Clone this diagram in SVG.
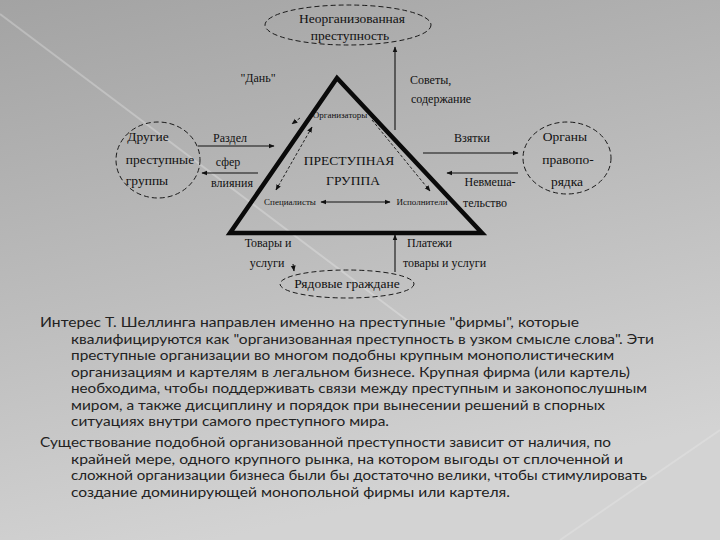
<svg xmlns="http://www.w3.org/2000/svg" width="720" height="540" viewBox="0 0 720 540">
<defs>
<linearGradient id="bg" x1="0" y1="0" x2="0.3" y2="1">
<stop offset="0" stop-color="#a3a3a3"/>
<stop offset="0.55" stop-color="#bdbdbd"/>
<stop offset="1" stop-color="#d3d3d3"/>
</linearGradient>
<marker id="ah" viewBox="0 0 10 10" refX="9" refY="5" markerWidth="6" markerHeight="6" orient="auto-start-reverse" markerUnits="userSpaceOnUse">
<path d="M0,1 L10,5 L0,9 Z" fill="#111"/>
</marker>
<style>
.lbl{font-family:"Liberation Serif","Times New Roman",serif;fill:#111;}
.s12{font-size:12px;}
.s13{font-size:13.5px;}
.s9{font-size:9px;}
.dash{fill:none;stroke:#1a1a1a;stroke-width:1;stroke-dasharray:5,3;}
.conn{fill:none;stroke:#111;stroke-width:1.1;marker-end:url(#ah);}
.inner{fill:none;stroke:#222;stroke-width:1;stroke-dasharray:3,2;}
.para{font-family:Lato,"Noto Sans",sans-serif;font-size:13.5px;fill:#222;}
</style>
</defs>
<rect x="0" y="0" width="720" height="540" fill="url(#bg)"/>
<line x1="0" y1="14" x2="420" y2="330" stroke="#ffffff" stroke-opacity="0.25" stroke-width="2"/>
<line x1="720" y1="430" x2="560" y2="540" stroke="#ffffff" stroke-opacity="0.18" stroke-width="2"/>

<g id="connectors">
<line class="conn" x1="395" y1="130" x2="395" y2="47"/>
<line class="conn" x1="198" y1="146" x2="274" y2="146"/>
<line class="conn" x1="258" y1="173" x2="202" y2="173"/>
<line class="conn" x1="423" y1="153" x2="518" y2="153"/>
<line class="conn" x1="518" y1="173" x2="447" y2="173"/>
<line class="conn" x1="395" y1="272" x2="395" y2="235"/>
<line class="conn" x1="293" y1="264" x2="294" y2="271"/>
<path class="inner" d="M312,127 L276,190" marker-start="url(#ah)" marker-end="url(#ah)"/>
<path class="inner" d="M300,118 L292,124" marker-end="url(#ah)"/>
<path class="inner" d="M372,120 L430,191" marker-end="url(#ah)"/>
<line x1="321" y1="202" x2="390" y2="202" stroke="#111" stroke-width="1" marker-start="url(#ah)" marker-end="url(#ah)"/>
<text class="lbl s12" x="258" y="82" text-anchor="middle">"Дань"</text>
<text class="lbl s12" x="410" y="84">Советы,</text>
<text class="lbl s12" x="411" y="103">содержание</text>
<text class="lbl s12" x="230" y="142" text-anchor="middle">Раздел</text>
<text class="lbl s12" x="228" y="166" text-anchor="middle">сфер</text>
<text class="lbl s12" x="232" y="187" text-anchor="middle">влияния</text>
<text class="lbl s12" x="472" y="142" text-anchor="middle">Взятки</text>
<text class="lbl s12" x="490" y="186" text-anchor="middle">Невмеша-</text>
<text class="lbl s12" x="485" y="207" text-anchor="middle">тельство</text>
<text class="lbl s12" x="268" y="247" text-anchor="middle">Товары и</text>
<text class="lbl s12" x="267" y="267" text-anchor="middle">услуги</text>
<text class="lbl s12" x="407" y="247">Платежи</text>
<text class="lbl s12" x="403" y="267">товары и услуги</text>
</g>

<g id="node-unorganized">
<ellipse class="dash" cx="348" cy="25" rx="83" ry="20"/>
<text class="lbl s13" x="352" y="23" text-anchor="middle">Неорганизованная</text>
<text class="lbl s13" x="350" y="40" text-anchor="middle">преступность</text>
</g>

<g id="node-other-groups">
<ellipse class="dash" cx="158" cy="160" rx="42" ry="38"/>
<text class="lbl s13" x="148" y="141" text-anchor="middle">Другие</text>
<text class="lbl s13" x="160" y="164" text-anchor="middle">преступные</text>
<text class="lbl s13" x="147" y="185" text-anchor="middle">группы</text>
</g>

<g id="node-law-enforcement">
<ellipse class="dash" cx="567" cy="158" rx="44" ry="36"/>
<text class="lbl s13" x="565" y="141" text-anchor="middle">Органы</text>
<text class="lbl s13" x="568" y="164" text-anchor="middle">правопо-</text>
<text class="lbl s13" x="567" y="186" text-anchor="middle">рядка</text>
</g>

<g id="node-citizens">
<ellipse class="dash" cx="347" cy="284" rx="67" ry="14"/>
<text class="lbl s13" x="347" y="288" text-anchor="middle">Рядовые граждане</text>
</g>

<g id="node-criminal-group">
<polygon points="337,78 230,233 482,233" fill="none" stroke="#0a0a0a" stroke-width="4.5" stroke-linejoin="miter"/>
<text class="lbl s13" x="349" y="165" text-anchor="middle">ПРЕСТУПНАЯ</text>
<text class="lbl s13" x="353" y="185" text-anchor="middle">ГРУППА</text>
<text class="lbl s9" x="340" y="118" text-anchor="middle">Организаторы</text>
<text class="lbl s9" x="290" y="205" text-anchor="middle">Специалисты</text>
<text class="lbl s9" x="422" y="205" text-anchor="middle">Исполнители</text>
</g>

<g id="text-body">
<text class="para" x="40" y="327" textLength="539" lengthAdjust="spacingAndGlyphs">Интерес Т. Шеллинга направлен именно на преступные "фирмы", которые</text>
<text class="para" x="71" y="343.5" textLength="583" lengthAdjust="spacingAndGlyphs">квалифицируются как "организованная преступность в узком смысле слова". Эти</text>
<text class="para" x="71" y="360" textLength="543" lengthAdjust="spacingAndGlyphs">преступные организации во многом подобны крупным монополистическим</text>
<text class="para" x="71" y="376.5" textLength="559" lengthAdjust="spacingAndGlyphs">организациям и картелям в легальном бизнесе. Крупная фирма (или картель)</text>
<text class="para" x="71" y="393" textLength="576" lengthAdjust="spacingAndGlyphs">необходима, чтобы поддерживать связи между преступным и законопослушным</text>
<text class="para" x="71" y="409.5" textLength="534" lengthAdjust="spacingAndGlyphs">миром, а также дисциплину и порядок при вынесении решений в спорных</text>
<text class="para" x="71" y="426" textLength="318" lengthAdjust="spacingAndGlyphs">ситуациях внутри самого преступного мира.</text>
<text class="para" x="40" y="447" textLength="571" lengthAdjust="spacingAndGlyphs">Существование подобной организованной преступности зависит от наличия, по</text>
<text class="para" x="71" y="463.5" textLength="552" lengthAdjust="spacingAndGlyphs">крайней мере, одного крупного рынка, на котором выгоды от сплоченной и</text>
<text class="para" x="71" y="480" textLength="576" lengthAdjust="spacingAndGlyphs">сложной организации бизнеса были бы достаточно велики, чтобы стимулировать</text>
<text class="para" x="71" y="496.5" textLength="439" lengthAdjust="spacingAndGlyphs">создание доминирующей монопольной фирмы или картеля.</text>
</g>
</svg>
